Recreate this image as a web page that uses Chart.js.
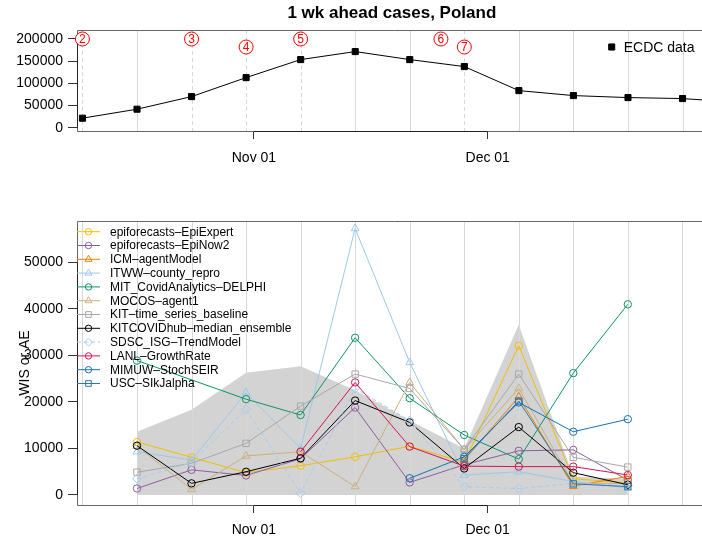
<!DOCTYPE html>
<html>
<head>
<meta charset="utf-8">
<script src="https://cdn.jsdelivr.net/npm/chart.js@4.4.1/dist/chart.umd.min.js"></script>
<style>
  html, body { margin: 0; padding: 0; background: #fff; }
  body { width: 702px; height: 544px; overflow: hidden; position: relative; }
  canvas { position: absolute; left: 0; }
</style>
</head>
<body>
<canvas id="topChart" width="712" height="180" style="top:0"></canvas>
<canvas id="bottomChart" width="712" height="364" style="top:180px"></canvas>
<script>
// days counted from 2020-10-01
const tickDays = [31, 61];
const tickLabels = ["Nov 01", "Dec 01"];

// truth data (top panel)
const ecdcDays = [9, 16, 23, 30, 37, 44, 51, 58, 65, 72, 79, 86, 93];
const ecdcCases = [21800, 42000, 70300, 113000, 153500, 171500, 153500, 137800, 83800, 72600, 68100, 65900, 57500];
const topTicks = [0, 50000, 100000, 150000, 200000];

// forecast dates marked in the top panel
const markerDays = [9, 23, 30, 37, 55, 58];
const markerLabels = ["2", "3", "4", "5", "6", "7"];

// scores (bottom panel)
const forecastDays = [16, 23, 30, 37, 44, 51, 58, 65, 72, 79];
const bottomTicks = [0, 10000, 20000, 30000, 40000, 50000];
const areaUpper = [13600, 18300, 26300, 27700, 22500, 16000, 10000, 36600, 4000, 3500];

const epiExpert   = [11400, 8100, 4800, 6300, 8200, 10500, 7000, 32100, 3500, 2600];
const epiNow2     = [1400, 5400, 4200, 7800, 18800, 2700, 6500, 9500, 9700, 3200];
const icmAgent    = [null, null, null, null, null, null, 7500, 21100, 1900, 4000];
const itwwCounty  = [9300, 7500, 22000, 10000, 57300, 28500, 4300, 5000, 2900, 1500];
const mitDelphi   = [28900, null, 20600, 17200, 33800, 20800, 12900, 7700, 26200, 41000];
const mocosAgent  = [10500, 1200, 8400, 9300, 1800, 24200, 9800, 22900, 2500, 2500];
const kitBaseline = [4900, 6800, 11100, 19100, 26000, 22900, 9800, 26000, 8100, 6000];
const kitEnsemble = [10600, 2500, 5000, 7900, 20300, 15600, 5700, 14600, 4800, 2200];
const sdscTrend   = [3500, 7000, 18400, 400, 22900, 16000, 1800, 1400, 2500, 2000];
const lanlGrowth  = [null, null, null, 9300, 24200, 10400, 6200, 6100, 6100, 4300];
const mimuwSeir   = [null, null, null, null, null, 3600, 8200, 19900, 13600, 16300];
const uscSikj     = [null, null, null, null, null, null, 7800, 20200, 2400, 1800];

const seriesNames = [
    "epiforecasts–EpiExpert", "epiforecasts–EpiNow2", "ICM–agentModel", "ITWW–county_repro",
    "MIT_CovidAnalytics–DELPHI", "MOCOS–agent1", "KIT–time_series_baseline",
    "KITCOVIDhub–median_ensemble", "SDSC_ISG–TrendModel", "LANL–GrowthRate",
    "MIMUW–StochSEIR", "USC–SIkJalpha"
];
const seriesValues = [epiExpert, epiNow2, icmAgent, itwwCounty, mitDelphi, mocosAgent,
    kitBaseline, kitEnsemble, sdscTrend, lanlGrowth, mimuwSeir, uscSikj];

// styles, same order as names
const seriesStyles = [
    { color: "#F0C000", point: "circle" },
    { color: "#8D5E9F", point: "circle" },
    { color: "#F08000", point: "triangle" },
    { color: "#9CC8EE", point: "triangle" },
    { color: "#0E936A", point: "circle" },
    { color: "#C8B27E", point: "triangle" },
    { color: "#A8A8A8", point: "rect" },
    { color: "#000000", point: "circle" },
    { color: "#A4CCF0", point: "rectRot", dash: [4, 3] },
    { color: "#D41551", point: "circle" },
    { color: "#1672B6", point: "circle" },
    { color: "#2C78B2", point: "rect" }
];

const FONT = "'Liberation Sans', Arial, Helvetica, sans-serif";
const X_MIN = 8.3, X_MAX = 89.1;

function radiusFor(style) {
    return style === "circle" ? 3.7 : 4.5;
}

// small marker for the hand-drawn legends
function drawMarker(ctx, style, x, y, r, color, filled) {
    ctx.beginPath();
    if (style === "circle") {
        ctx.arc(x, y, r, 0, Math.PI * 2);
    } else if (style === "triangle") {
        const h = r * 1.5, w = r * Math.sqrt(3) / 2;
        ctx.moveTo(x, y - r);
        ctx.lineTo(x + w, y - r + h);
        ctx.lineTo(x - w, y - r + h);
        ctx.closePath();
    } else if (style === "rect") {
        const s = r * Math.SQRT1_2;
        ctx.rect(x - s, y - s, 2 * s, 2 * s);
    } else if (style === "rectRot") {
        ctx.moveTo(x, y - r); ctx.lineTo(x + r, y); ctx.lineTo(x, y + r); ctx.lineTo(x - r, y);
        ctx.closePath();
    }
    if (filled) { ctx.fillStyle = color; ctx.fill(); }
    ctx.strokeStyle = color;
    ctx.lineWidth = 1;
    ctx.stroke();
}

function drawGrid(chart, dashedDays) {
    const { ctx, chartArea } = chart;
    const xs = chart.scales.x;
    ctx.save();
    ctx.lineWidth = 1;
    ecdcDays.forEach(d => {
        if (d < X_MIN || d > X_MAX) return;
        const x = Math.round(xs.getPixelForValue(d)) + 0.5;
        ctx.strokeStyle = "#D8D8D8";
        ctx.setLineDash(dashedDays.includes(d) ? [4, 3] : []);
        ctx.beginPath();
        ctx.moveTo(x, chartArea.top);
        ctx.lineTo(x, chartArea.bottom);
        ctx.stroke();
    });
    ctx.restore();
}

function drawFrame(chart, yTicks) {
    const { ctx, chartArea } = chart;
    const xs = chart.scales.x, ys = chart.scales.y;
    const l = chartArea.left + 0.5, t = Math.round(chartArea.top) + 0.5, b = Math.round(chartArea.bottom) + 0.5;
    ctx.save();
    ctx.lineWidth = 1;
    ctx.strokeStyle = "#666";
    ctx.beginPath();
    ctx.moveTo(chart.width, t); ctx.lineTo(l, t); ctx.lineTo(l, b); ctx.lineTo(chart.width, b);
    ctx.stroke();
    ctx.strokeStyle = "#222";
    ctx.beginPath();
    ctx.moveTo(xs.getPixelForValue(tickDays[0]), b);
    ctx.lineTo(xs.getPixelForValue(tickDays[tickDays.length - 1]), b);
    ctx.moveTo(l, ys.getPixelForValue(yTicks[0]));
    ctx.lineTo(l, ys.getPixelForValue(yTicks[yTicks.length - 1]));
    ctx.stroke();
    ctx.restore();
}

function xScale(height, pad) {
    return {
        type: "linear", min: X_MIN, max: X_MAX,
        afterBuildTicks: s => { s.ticks = tickDays.map(v => ({ value: v })); },
        afterFit: s => { s.height = height; },
        ticks: { callback: (v, i) => tickLabels[i], autoSkip: false, maxRotation: 0,
                 padding: pad, color: "#000", font: { family: FONT, size: 14 } },
        grid: { display: true, drawOnChartArea: false, drawTicks: true, tickLength: 8, color: "#333" },
        border: { display: false }
    };
}

function yScale(min, max, ticks) {
    return {
        type: "linear", min, max,
        afterBuildTicks: s => { s.ticks = ticks.map(v => ({ value: v })); },
        afterFit: s => { s.width = 77; },
        ticks: { callback: v => String(v), padding: 5, color: "#000", font: { family: FONT, size: 14 } },
        grid: { display: true, drawOnChartArea: false, drawTicks: true, tickLength: 9, color: "#333" },
        border: { display: false }
    };
}

// ---------- top panel ----------
const topPlugin = {
    id: "topDecor",
    beforeDatasetsDraw(chart) {
        const week = ecdcDays.filter(d => markerDays.includes(d));
        drawGrid(chart, week);
    },
    afterDraw(chart) {
        const { ctx, chartArea } = chart;
        const xs = chart.scales.x;
        drawFrame(chart, topTicks);
        ctx.save();
        // title
        ctx.fillStyle = "#000";
        ctx.font = "bold 17px " + FONT;
        ctx.textAlign = "center";
        ctx.textBaseline = "middle";
        ctx.fillText("1 wk ahead cases, Poland", (chartArea.left + chartArea.right) / 2, 13);
        // circled forecast numbers
        let prevRow = 1;
        markerDays.forEach((d, i) => {
            const close = i > 0 && d - markerDays[i - 1] <= 7;
            const row = close && prevRow === 0 ? 1 : 0;
            prevRow = row;
            const x = xs.getPixelForValue(d);
            const y = chartArea.top + 9 + row * 8;
            ctx.beginPath();
            ctx.arc(x, y, 7, 0, Math.PI * 2);
            ctx.fillStyle = "#fff";
            ctx.fill();
            ctx.strokeStyle = "#F00";
            ctx.lineWidth = 1;
            ctx.stroke();
            ctx.fillStyle = "#F00";
            ctx.font = "12px " + FONT;
            ctx.fillText(markerLabels[i], x, y + 0.5);
        });
        // legend
        const lx = chartArea.right - 95, ly = chartArea.top + 17;
        drawMarker(ctx, "rect", lx, ly, 4.3, "#000", true);
        ctx.fillStyle = "#000";
        ctx.font = "14px " + FONT;
        ctx.textAlign = "left";
        ctx.fillText("ECDC data", lx + 12, ly + 1);
        ctx.restore();
    }
};

new Chart(document.getElementById("topChart"), {
    type: "line",
    data: {
        datasets: [{
            label: "ECDC data",
            data: ecdcDays.map((d, i) => ({ x: d, y: ecdcCases[i] })),
            borderColor: "#000", borderWidth: 1,
            pointStyle: "rect", pointRadius: 4.3,
            pointBackgroundColor: "#000", pointBorderColor: "#000",
            tension: 0
        }]
    },
    options: {
        responsive: false, animation: false,
        layout: { padding: { left: 0, right: 5, top: 30, bottom: 0 } },
        scales: { x: xScale(49, 11), y: yScale(-7000, 220000, topTicks) },
        plugins: { legend: { display: false }, tooltip: { enabled: false }, title: { display: false } }
    },
    plugins: [topPlugin]
});

// ---------- bottom panel ----------
const datasets = seriesValues.map((vals, i) => {
    const st = seriesStyles[i];
    return {
        label: seriesNames[i],
        data: forecastDays.map((d, j) => ({ x: d, y: vals[j] })),
        borderColor: st.color, borderWidth: 1, borderDash: st.dash || [],
        pointStyle: st.point, pointRadius: radiusFor(st.point),
        pointBorderColor: st.color, pointBackgroundColor: "rgba(0,0,0,0)", pointBorderWidth: 1,
        spanGaps: vals.some(v => v === null) && vals[0] !== null,
        tension: 0, fill: false,
        order: seriesValues.length - i
    };
});
datasets.push({
    label: "range",
    data: forecastDays.map((d, j) => ({ x: d, y: areaUpper[j] })),
    borderWidth: 0, borderColor: "rgba(0,0,0,0)", pointRadius: 0,
    backgroundColor: "#D3D3D3", fill: "origin", tension: 0,
    order: 100
});
const areaIndex = datasets.length - 1;

const bottomPlugin = {
    id: "bottomDecor",
    afterDatasetDraw(chart, args) {
        if (args.index === areaIndex) drawGrid(chart, []);
    },
    afterDraw(chart) {
        const { ctx, chartArea } = chart;
        drawFrame(chart, bottomTicks);
        ctx.save();
        // y title
        ctx.fillStyle = "#000";
        ctx.font = "14px " + FONT;
        ctx.textAlign = "center";
        ctx.textBaseline = "middle";
        ctx.translate(25, (chartArea.top + chartArea.bottom) / 2);
        ctx.rotate(-Math.PI / 2);
        ctx.fillText("WIS or AE", 0, 0);
        ctx.restore();
        // legend
        ctx.save();
        const x0 = chartArea.left, y0 = chartArea.top + 10.7;
        seriesNames.forEach((name, i) => {
            const st = seriesStyles[i];
            const y = y0 + i * 13.8;
            ctx.strokeStyle = st.color;
            ctx.lineWidth = 1;
            ctx.setLineDash(st.dash || []);
            ctx.beginPath();
            ctx.moveTo(x0, y); ctx.lineTo(x0 + 23, y);
            ctx.stroke();
            ctx.setLineDash([]);
            drawMarker(ctx, st.point, x0 + 11.5, y, radiusFor(st.point) - 0.5, st.color, false);
            ctx.fillStyle = "#000";
            ctx.font = "12px " + FONT;
            ctx.textAlign = "left";
            ctx.textBaseline = "middle";
            ctx.fillText(name, x0 + 33, y + 0.5);
        });
        ctx.restore();
    }
};

new Chart(document.getElementById("bottomChart"), {
    type: "line",
    data: { datasets },
    options: {
        responsive: false, animation: false,
        layout: { padding: { left: 0, right: 5, top: 41, bottom: 0 } },
        scales: { x: xScale(39, 9), y: yScale(-2150, 58900, bottomTicks) },
        plugins: { legend: { display: false }, tooltip: { enabled: false } }
    },
    plugins: [bottomPlugin]
});
</script>
</body>
</html>
